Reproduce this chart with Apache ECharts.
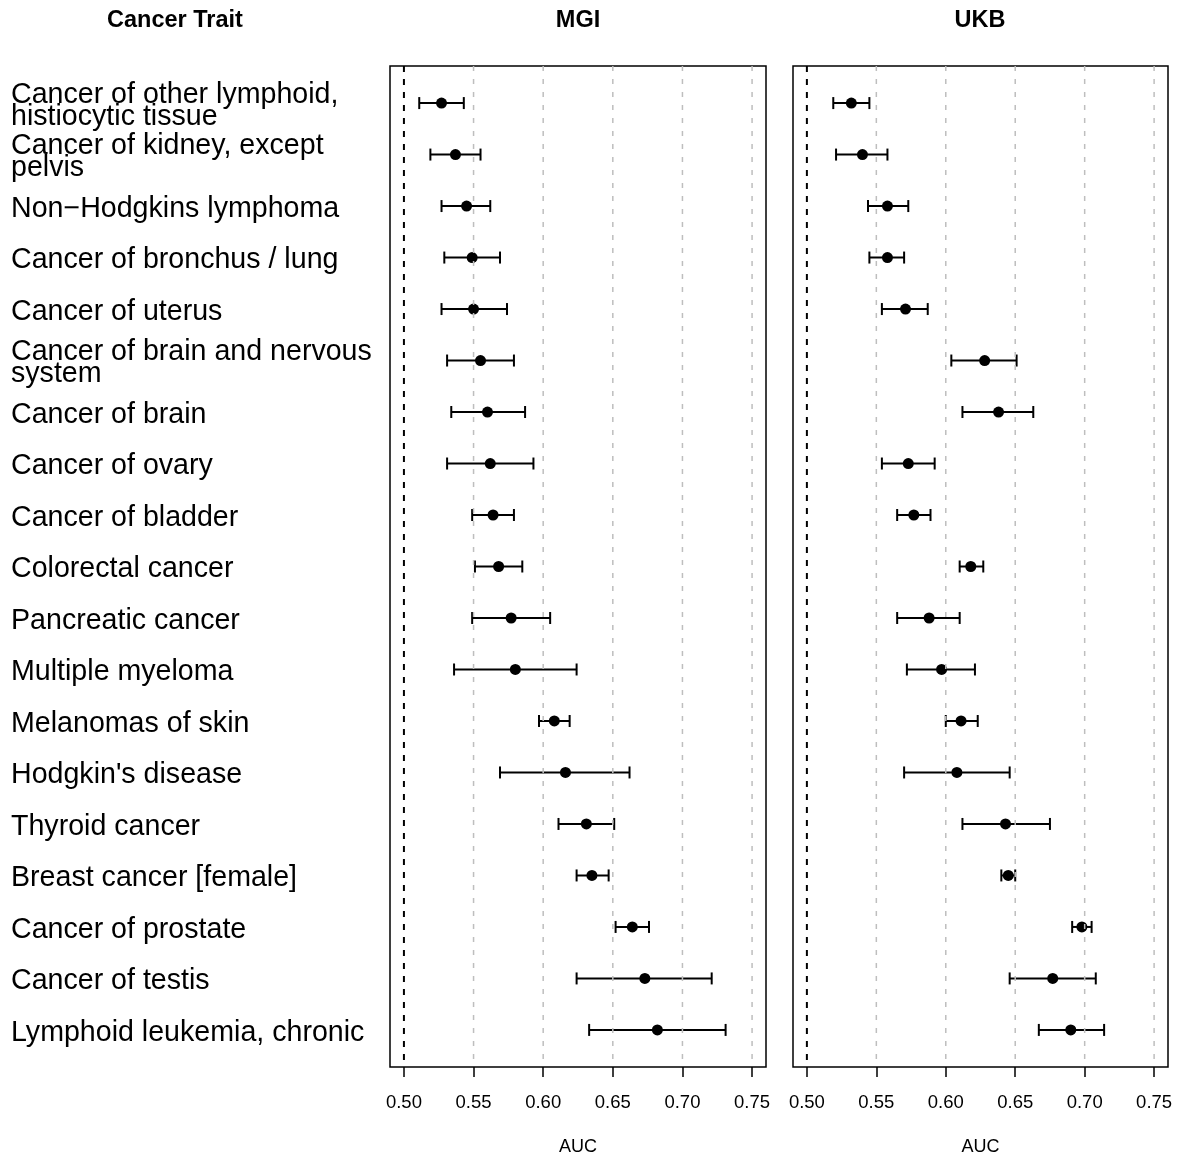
<!DOCTYPE html>
<html>
<head>
<meta charset="utf-8">
<script src="https://cdn.jsdelivr.net/npm/echarts@6/dist/echarts.min.js"></script>
<style>
html,body{margin:0;padding:0;background:#fff;}
#chart{width:1185px;height:1160px;}
</style>
</head>
<body>
<div id="chart"></div>
<script>
const traits = [
  "Cancer of other lymphoid,\nhistiocytic tissue",
  "Cancer of kidney, except\npelvis",
  "Non\u2212Hodgkins lymphoma",
  "Cancer of bronchus / lung",
  "Cancer of uterus",
  "Cancer of brain and nervous\nsystem",
  "Cancer of brain",
  "Cancer of ovary",
  "Cancer of bladder",
  "Colorectal cancer",
  "Pancreatic cancer",
  "Multiple myeloma",
  "Melanomas of skin",
  "Hodgkin's disease",
  "Thyroid cancer",
  "Breast cancer [female]",
  "Cancer of prostate",
  "Cancer of testis",
  "Lymphoid leukemia, chronic"
];
const mgiAuc = [0.527,0.537,0.545,0.549,0.550,0.555,0.560,0.562,0.564,0.568,0.577,0.580,0.608,0.616,0.631,0.635,0.664,0.673,0.682];
const mgiLo  = [0.511,0.519,0.527,0.529,0.527,0.531,0.534,0.531,0.549,0.551,0.549,0.536,0.597,0.569,0.611,0.624,0.652,0.624,0.633];
const mgiHi  = [0.543,0.555,0.562,0.569,0.574,0.579,0.587,0.593,0.579,0.585,0.605,0.624,0.619,0.662,0.651,0.647,0.676,0.721,0.731];
const ukbAuc = [0.532,0.540,0.558,0.558,0.571,0.628,0.638,0.573,0.577,0.618,0.588,0.597,0.611,0.608,0.643,0.645,0.698,0.677,0.690];
const ukbLo  = [0.519,0.521,0.544,0.545,0.554,0.604,0.612,0.554,0.565,0.610,0.565,0.572,0.600,0.570,0.612,0.640,0.691,0.646,0.667];
const ukbHi  = [0.545,0.558,0.573,0.570,0.587,0.651,0.663,0.592,0.589,0.627,0.610,0.621,0.623,0.646,0.675,0.650,0.705,0.708,0.714];
const xTicks = [0.50,0.55,0.60,0.65,0.70,0.75];
const refValue = 0.50;
const panelTitles = ["MGI","UKB"];
const traitHeader = "Cancer Trait";
const axisName = "AUC";

const FONT = "'Liberation Sans', Arial, Helvetica, sans-serif";
const rows = traits.map((t,i)=>i+1);
const Y_MIN = 0.28, Y_MAX = 19.72;
const LABEL_SHIFT = 0.055; // small downward nudge of label text, in row units

const chart = echarts.init(document.getElementById('chart'), null, {renderer:'canvas'});

function xAxisFor(gi){
  return {
    type:'value', gridIndex:gi, min:0.49, max:0.76,
    axisLine:{show:false},
    axisTick:{show:true, customValues:xTicks, length:10, lineStyle:{color:'#000', width:1.5}},
    axisLabel:{show:true, customValues:xTicks, formatter:v=>v.toFixed(2), fontSize:18.5, fontFamily:FONT, color:'#000', margin:26},
    splitLine:{show:false},
    name:axisName, nameLocation:'middle', nameGap:71,
    nameTextStyle:{fontSize:18, fontFamily:FONT, color:'#000'}
  };
}
function yAxisFor(gi){
  return {
    type:'value', gridIndex:gi, position:'left', min:Y_MIN, max:Y_MAX, inverse:true,
    axisLine:{show:false}, axisTick:{show:false}, splitLine:{show:false},
    axisLabel:{show:false}
  };
}
const labelAxis = {
  type:'value', gridIndex:0, position:'left', offset:0,
  min:Y_MIN - LABEL_SHIFT, max:Y_MAX - LABEL_SHIFT, inverse:true,
  axisLine:{show:false}, axisTick:{show:false}, splitLine:{show:false},
  axisLabel:{
    show:true, customValues:rows, formatter:v=>traits[Math.round(v)-1] || '',
    align:'left', margin:379, fontSize:28.6, lineHeight:22,
    fontFamily:FONT, color:'#000'
  }
};
function errBarSeries(gi, lo, hi){
  return {
    type:'custom', xAxisIndex:gi, yAxisIndex:gi, z:2,
    data: lo.map((l,i)=>[l, hi[i], i+1]),
    renderItem:function(params, api){
      const a = api.coord([api.value(0), api.value(2)]);
      const b = api.coord([api.value(1), api.value(2)]);
      const c = 6;
      const st = {stroke:'#000', lineWidth:2};
      return {type:'group', children:[
        {type:'line', shape:{x1:a[0],y1:a[1],x2:b[0],y2:b[1]}, style:st},
        {type:'line', shape:{x1:a[0],y1:a[1]-c,x2:a[0],y2:a[1]+c}, style:st},
        {type:'line', shape:{x1:b[0],y1:b[1]-c,x2:b[0],y2:b[1]+c}, style:st}
      ]};
    }
  };
}
function pointSeries(gi, auc){
  return {
    type:'scatter', xAxisIndex:gi, yAxisIndex:gi, z:3,
    symbol:'circle', symbolSize:11, itemStyle:{color:'#000', opacity:1},
    data: auc.map((v,i)=>[v, i+1]), animation:false
  };
}
function gridLineSeries(gi){
  return {
    type:'custom', xAxisIndex:gi, yAxisIndex:gi, z:5,
    data: xTicks.map(v=>[v]),
    renderItem:function(params, api){
      const cs = params.coordSys;
      const p = api.coord([api.value(0), 1]);
      const isRef = Math.abs(api.value(0) - refValue) < 1e-9;
      return {type:'line', shape:{x1:p[0], y1:cs.y, x2:p[0], y2:cs.y+cs.height},
        style:{stroke:isRef?'#000':'#bebebe', lineWidth:isRef?2:1.5, lineDash:isRef?[6,7]:[5,8]}};
    }
  };
}

const option = {
  backgroundColor:'#fff',
  animation:false,
  grid:[
    {left:390, top:66, width:376, height:1001, show:true, borderColor:'#000', borderWidth:1.5, backgroundColor:'transparent', outerBoundsMode:'none'},
    {left:793, top:66, width:375, height:1001, show:true, borderColor:'#000', borderWidth:1.5, backgroundColor:'transparent', outerBoundsMode:'none'}
  ],
  xAxis:[xAxisFor(0), xAxisFor(1)],
  yAxis:[yAxisFor(0), yAxisFor(1), labelAxis],
  graphic:[
    {type:'text', x:175, y:21, style:{text:traitHeader, align:'center', verticalAlign:'middle', fontSize:23.5, fontWeight:'bold', fontFamily:FONT, fill:'#000'}},
    {type:'text', x:578, y:21, style:{text:panelTitles[0], align:'center', verticalAlign:'middle', fontSize:23.5, fontWeight:'bold', fontFamily:FONT, fill:'#000'}},
    {type:'text', x:980, y:21, style:{text:panelTitles[1], align:'center', verticalAlign:'middle', fontSize:23.5, fontWeight:'bold', fontFamily:FONT, fill:'#000'}}
  ],
  series:[
    errBarSeries(0, mgiLo, mgiHi), pointSeries(0, mgiAuc), gridLineSeries(0),
    errBarSeries(1, ukbLo, ukbHi), pointSeries(1, ukbAuc), gridLineSeries(1)
  ]
};
chart.setOption(option);
</script>
</body>
</html>
